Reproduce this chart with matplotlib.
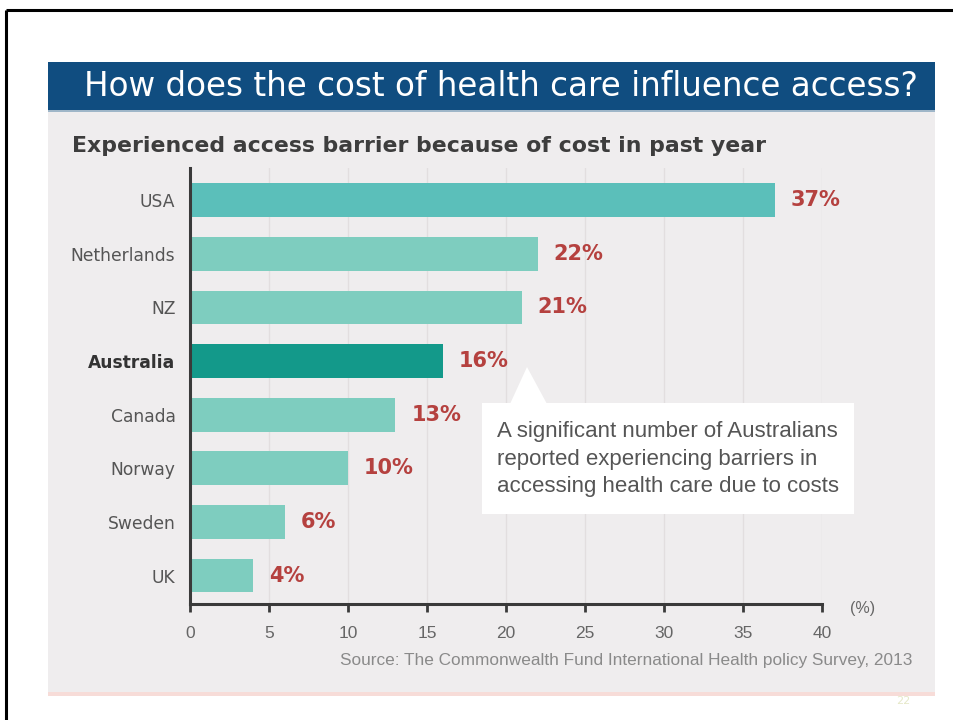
import matplotlib.pyplot as plt
from matplotlib.patches import Rectangle, Polygon

countries = ["USA", "Netherlands", "NZ", "Australia", "Canada", "Norway", "Sweden", "UK"]
values = [37, 22, 21, 16, 13, 10, 6, 4]
xticks = [0, 5, 10, 15, 20, 25, 30, 35, 40]

title = "How does the cost of health care influence access?"
subtitle = "Experienced access barrier because of cost in past year"
note = ("A significant number of Australians\n"
        "reported experiencing barriers in\n"
        "accessing health care due to costs")
source = "Source: The Commonwealth Fund International Health policy Survey, 2013"

plt.rcParams["font.family"] = ["DejaVu Sans"]
NARROW = ["Liberation Sans", "DejaVu Sans"]

W, H = 954, 720
fig = plt.figure(figsize=(W / 100, H / 100), dpi=100)
fig.patch.set_facecolor("white")

# pixel-space layer for the slide frame and panel
bg = fig.add_axes([0, 0, 1, 1])
bg.set_xlim(0, W)
bg.set_ylim(H, 0)
bg.axis("off")

bg.plot([6, W], [10, 10], color="black", lw=2.2, solid_capstyle="butt")
bg.plot([6, 6], [10, H], color="black", lw=2.2, solid_capstyle="butt")
bg.add_patch(Rectangle((48, 62), 887, 632, facecolor="#efedee", edgecolor="none"))
bg.add_patch(Rectangle((48, 62), 887, 49, facecolor="#104d80", edgecolor="none"))
bg.add_patch(Rectangle((48, 110), 887, 1.5, facecolor="#9fb6c8", edgecolor="none"))
bg.add_patch(Rectangle((48, 692), 887, 4, facecolor="#f7dcd8", edgecolor="none"))
bg.text(501, 86, title, color="white", fontsize=23.5, ha="center", va="center")
bg.text(72, 146, subtitle, color="#3d3d3d", fontsize=15.8, fontweight="bold",
        ha="left", va="center")
bg.text(912, 660, source, color="#8a8a8a", fontsize=12.4, ha="right", va="center",
        family=NARROW)
bg.text(850, 609, "(%)", color="#666666", fontsize=11.5, ha="left", va="center",
        family=NARROW)
bg.text(903, 701, "22", color="#e6e8c8", fontsize=8, ha="center", va="center")

# bar chart
ax = fig.add_axes([190 / W, 1 - 604 / H, 632 / W, (604 - 168) / H])
ax.set_facecolor("none")
ypos = list(range(len(countries)))
colors = ["#13998a" if c == "Australia" else "#5bbfba" if c == "USA" else "#7ecdbf"
          for c in countries]
ax.barh(ypos, values, height=0.63, color=colors, zorder=3)
for y, v in zip(ypos, values):
    ax.text(v + 1.0, y, f"{v}%", color="#b5413f", fontsize=15, fontweight="bold",
            ha="left", va="center", zorder=4)

ax.set_xlim(0, 40)
ax.set_ylim(7.53, -0.6)
ax.set_xticks(xticks)
ax.set_xticklabels([str(t) for t in xticks], color="#666666", fontsize=12.5,
                   family=NARROW)
ax.set_yticks(ypos)
ax.set_yticklabels(countries, fontsize=12.3, color="#555555")
for lbl in ax.get_yticklabels():
    if lbl.get_text() == "Australia":
        lbl.set_fontweight("bold")
        lbl.set_color("#333333")
ax.tick_params(axis="y", length=0, pad=10.5)
ax.tick_params(axis="x", length=6, width=2, color="#3a3a3a", pad=10)
ax.grid(axis="x", color="#e2dedf", lw=1, zorder=0)
for side in ["top", "right"]:
    ax.spines[side].set_visible(False)
for side in ["left", "bottom"]:
    ax.spines[side].set_color("#3a3a3a")
    ax.spines[side].set_linewidth(2.2)
    ax.spines[side].set_zorder(5)

# callout box pointing at the Australia bar
callout = fig.add_axes([0, 0, 1, 1])
callout.set_xlim(0, W)
callout.set_ylim(H, 0)
callout.axis("off")
callout.add_patch(Rectangle((482, 403), 372, 111, facecolor="white", edgecolor="none"))
callout.add_patch(Polygon([(510, 404), (527, 367), (547, 404)], closed=True,
                          facecolor="white", edgecolor="none"))
callout.text(497, 459, note, color="#555555", fontsize=16, ha="left", va="center",
             linespacing=1.42, family=NARROW)

fig.savefig("out.png", dpi=100)
